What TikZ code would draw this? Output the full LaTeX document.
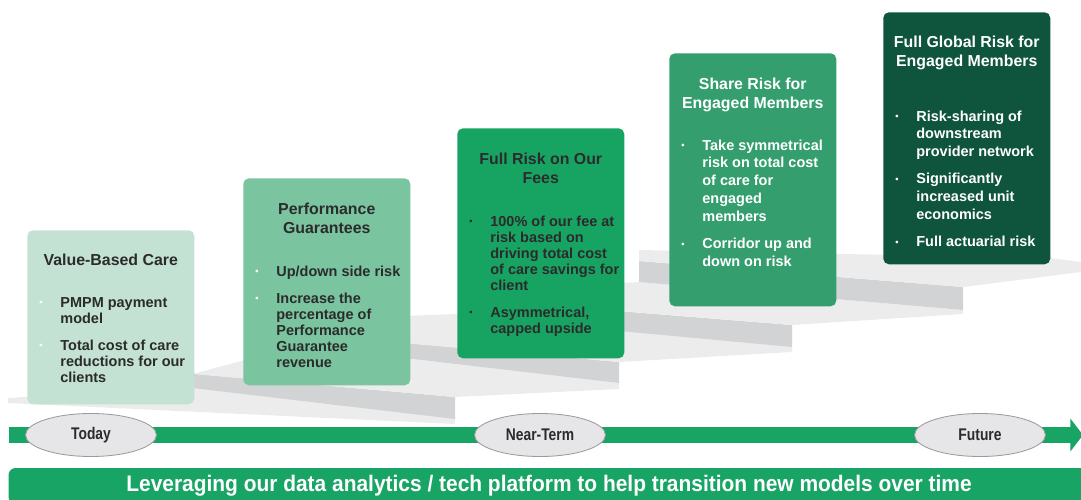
\documentclass[tikz,border=0pt]{standalone}
\usepackage{fontspec}
\setmainfont{Liberation Sans}
\newfontfamily\narrowsans[FakeStretch=0.82]{Liberation Sans}
\newfontfamily\bannersans[FakeStretch=0.93]{Liberation Sans}
\usepackage{xcolor}
\usetikzlibrary{shapes.geometric, arrows.meta, positioning, calc}

\definecolor{stepOne}{HTML}{C3E2D3}
\definecolor{stepTwo}{HTML}{7AC4A0}
\definecolor{stepThree}{HTML}{17A463}
\definecolor{stepFour}{HTML}{349E6E}
\definecolor{stepFive}{HTML}{0F543C}
\definecolor{barGreen}{HTML}{18A464}
\definecolor{treadGrey}{HTML}{ECECEC}
\definecolor{riserGrey}{HTML}{D2D3D5}
\definecolor{pillGrey}{HTML}{E6E6E8}
\definecolor{pillEdge}{HTML}{9B9B9B}
\definecolor{inkDark}{HTML}{2B2B2B}

% one unit = one pixel of the slide
\def\pxu{0.025cm}
\newcommand{\dotmark}[1]{\raisebox{0.8pt}{\textcolor{#1}{\fontsize{6.5}{6.5}\selectfont\textbullet}}}

\begin{document}
\begin{tikzpicture}[x=\pxu, y=-\pxu,
  stagebox/.style={rectangle, rounded corners=4pt, anchor=north west,
    minimum width=167*\pxu, inner sep=0pt},
  boxtitle/.style={anchor=base, align=center, inner sep=0pt,
    font=\fontsize{11.3}{13.5}\selectfont\bfseries},
  bullets/.style={anchor=base west, inner sep=0pt,
    font=\fontsize{10.3}{11.4}\selectfont\bfseries},
  stage/.style={ellipse, draw=pillEdge, fill=pillGrey, line width=0.6pt,
    minimum width=131*\pxu, minimum height=43*\pxu, inner sep=0pt,
    font=\narrowsans\bfseries\fontsize{12}{14}\selectfont, text=inkDark},
  timeline/.style={draw=barGreen, line width=11.4pt,
    -{Triangle[length=9pt, width=23pt]}},
  banner/.style={rectangle, rounded corners=5pt, fill=barGreen, text=white,
    minimum width=1081*\pxu, minimum height=36*\pxu, inner sep=0pt,
    font=\bannersans\bfseries\fontsize{16}{18}\selectfont},
  tread/.style={fill=treadGrey},
  riser/.style={fill=riserGrey}
]
\useasboundingbox (0,0) rectangle (1081,500);

% staircase behind the boxes
\fill[tread] (8,398) -- (193,387) -- (455,418) -- (455,424) -- (8,403) -- cycle;
\fill[riser] (150,370) -- (455,397) -- (455,419) -- (150,383) -- cycle;
\fill[tread] (193,374) -- (455,397) -- (619,389) -- (619,383) -- (412,357) -- (300,345) -- cycle;
\fill[riser] (260,330) -- (619,362) -- (619,383) -- (260,341) -- cycle;
\fill[tread] (300,320) -- (300,334) -- (619,362) -- (792,352) -- (792,347) -- (560,322) -- (457,314) -- cycle;
\fill[riser] (480,300) -- (792,325) -- (792,347) -- (480,318) -- cycle;
\fill[tread] (560,286) -- (560,306) -- (792,325) -- (963,314) -- (963,310) -- (639,282) -- cycle;
\fill[riser] (639,261) -- (963,287) -- (963,310) -- (639,282) -- cycle;
\fill[tread] (639,250) -- (639,261) -- (963,287) -- (1081,272) -- (1081,262) -- (1050,258) -- cycle;

% step 1
\node[stagebox, fill=stepOne, minimum height=174*\pxu] (b1) at (27,230) {};
\node[boxtitle, text=inkDark] (t1) at ($(b1.north)+(0,35)$) {Value-Based Care};
\node[bullets, text=inkDark] (l1) at ($(b1.north west)+(12,77)$) {%
  \begin{tabular}[t]{@{}p{15pt}@{}l@{}}
  \dotmark{white} & PMPM payment\\
   & model\\[7.8pt]
  \dotmark{white} & Total cost of care\\
   & reductions for our\\
   & clients
  \end{tabular}};

% step 2
\node[stagebox, fill=stepTwo, minimum height=207*\pxu] (b2) at (243,178) {};
\node[boxtitle, text=inkDark] (t2) at ($(b2.north)+(0,55)$) {Performance\\Guarantees};
\node[bullets, text=inkDark] (l2) at ($(b2.north west)+(12,98)$) {%
  \begin{tabular}[t]{@{}p{15pt}@{}l@{}}
  \dotmark{white} & Up/down side risk\\[7.8pt]
  \dotmark{white} & Increase the\\
   & percentage of\\
   & Performance\\
   & Guarantee\\
   & revenue
  \end{tabular}};

% step 3
\node[stagebox, fill=stepThree, minimum height=230*\pxu] (b3) at (457,128) {};
\node[boxtitle, text=inkDark] (t3) at ($(b3.north)+(0,55)$) {Full Risk on Our\\Fees};
\node[bullets, text=inkDark] (l3) at ($(b3.north west)+(12,98)$) {%
  \begin{tabular}[t]{@{}p{15pt}@{}l@{}}
  \dotmark{inkDark} & 100\% of our fee at\\
   & risk based on\\
   & driving total cost\\
   & of care savings for\\
   & client\\[7.8pt]
  \dotmark{inkDark} & Asymmetrical,\\
   & capped upside
  \end{tabular}};

% step 4
\node[stagebox, fill=stepFour, minimum height=253*\pxu] (b4) at (669,53) {};
\node[boxtitle, text=white] (t4) at ($(b4.north)+(0,55)$) {Share Risk for\\Engaged Members};
\node[bullets, text=white, font=\fontsize{10.3}{12.7}\selectfont\bfseries] (l4) at ($(b4.north west)+(12,97)$) {%
  \begin{tabular}[t]{@{}p{15pt}@{}l@{}}
  \dotmark{white} & Take symmetrical\\
   & risk on total cost\\
   & of care for\\
   & engaged\\
   & members\\[6.4pt]
  \dotmark{white} & Corridor up and\\
   & down on risk
  \end{tabular}};

% step 5
\node[stagebox, fill=stepFive, minimum height=252*\pxu] (b5) at (883,12) {};
\node[boxtitle, text=white] (t5) at ($(b5.north)+(0,54)$) {Full Global Risk for\\Engaged Members};
\node[bullets, text=white, font=\fontsize{10.3}{12.7}\selectfont\bfseries] (l5) at ($(b5.north west)+(12,109)$) {%
  \begin{tabular}[t]{@{}p{15pt}@{}l@{}}
  \dotmark{white} & Risk-sharing of\\
   & downstream\\
   & provider network\\[6.4pt]
  \dotmark{white} & Significantly\\
   & increased unit\\
   & economics\\[6.4pt]
  \dotmark{white} & Full actuarial risk
  \end{tabular}};

% time axis
\coordinate (tl-start) at (9,435);
\coordinate (tl-end) at (1083,435);
\draw[timeline] (tl-start) -- (tl-end);
\node[stage] (today) at (91,435) {Today};
\node[stage] (nearterm) at (540,435) {Near-Term};
\node[stage] (future) at (980,435) {Future};

\node[banner] (tagline) at (549,486) {Leveraging our data analytics / tech platform to help transition new models over time};
\end{tikzpicture}
\end{document}
